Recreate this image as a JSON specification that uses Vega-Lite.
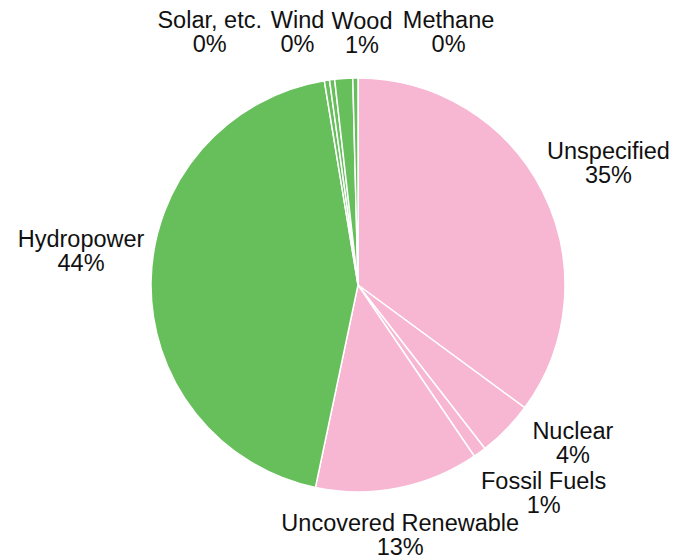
{
  "$schema": "https://vega.github.io/schema/vega-lite/v6.json",
  "width": 644,
  "height": 546,
  "autosize": "none",
  "padding": {"left": 36, "top": 12, "right": 0, "bottom": 0},
  "background": "white",
  "config": {"view": {"stroke": null}},
  "data": {
    "values": [
      {"i": 1, "name": "Unspecified", "group": "Other", "value": 0.351},
      {"i": 2, "name": "Nuclear", "group": "Other", "value": 0.044},
      {"i": 3, "name": "Fossil Fuels", "group": "Other", "value": 0.010},
      {"i": 4, "name": "Uncovered Renewable", "group": "Other", "value": 0.128},
      {"i": 5, "name": "Hydropower", "group": "Renewable", "value": 0.441},
      {"i": 6, "name": "Solar, etc.", "group": "Renewable", "value": 0.004},
      {"i": 7, "name": "Wind", "group": "Renewable", "value": 0.004},
      {"i": 8, "name": "Wood", "group": "Renewable", "value": 0.014},
      {"i": 9, "name": "Methane", "group": "Renewable", "value": 0.004}
    ]
  },
  "transform": [
    {"calculate": "datum.name + '\\n' + format(datum.value, '.0%')", "as": "label"}
  ],
  "encoding": {
    "theta": {"field": "value", "type": "quantitative", "stack": true},
    "order": {"field": "i", "type": "quantitative"}
  },
  "layer": [
    {
      "mark": {"type": "arc", "outerRadius": 207, "stroke": "white", "strokeWidth": 1.5},
      "encoding": {
        "color": {
          "field": "group",
          "type": "nominal",
          "scale": {"domain": ["Other", "Renewable"], "range": ["#F7B6D2", "#67BF5C"]},
          "legend": null
        }
      }
    },
    {
      "mark": {"type": "text", "radius": 275, "font": "Liberation Sans", "fontSize": 23.5, "lineHeight": 24, "lineBreak": "\n", "fill": "#111111", "baseline": "middle", "align": "center", "dx": 5, "dy": -9},
      "encoding": {"text": {"condition": {"test": "datum.name === 'Unspecified'", "field": "label"}, "value": ""}}
    },
    {
      "mark": {"type": "text", "radius": 275, "font": "Liberation Sans", "fontSize": 23.5, "lineHeight": 24, "lineBreak": "\n", "fill": "#111111", "baseline": "middle", "align": "center", "dx": 18, "dy": -45},
      "encoding": {"text": {"condition": {"test": "datum.name === 'Nuclear'", "field": "label"}, "value": ""}}
    },
    {
      "mark": {"type": "text", "radius": 275, "font": "Liberation Sans", "fontSize": 23.5, "lineHeight": 24, "lineBreak": "\n", "fill": "#111111", "baseline": "middle", "align": "center", "dx": 24, "dy": -25},
      "encoding": {"text": {"condition": {"test": "datum.name === 'Fossil Fuels'", "field": "label"}, "value": ""}}
    },
    {
      "mark": {"type": "text", "radius": 275, "font": "Liberation Sans", "fontSize": 23.5, "lineHeight": 24, "lineBreak": "\n", "fill": "#111111", "baseline": "middle", "align": "center", "dx": -11, "dy": -31},
      "encoding": {"text": {"condition": {"test": "datum.name === 'Uncovered Renewable'", "field": "label"}, "value": ""}}
    },
    {
      "mark": {"type": "text", "radius": 275, "font": "Liberation Sans", "fontSize": 23.5, "lineHeight": 24, "lineBreak": "\n", "fill": "#111111", "baseline": "middle", "align": "center", "dx": -2, "dy": -39},
      "encoding": {"text": {"condition": {"test": "datum.name === 'Hydropower'", "field": "label"}, "value": ""}}
    },
    {
      "mark": {"type": "text", "radius": 275, "font": "Liberation Sans", "fontSize": 23.5, "lineHeight": 24, "lineBreak": "\n", "fill": "#111111", "baseline": "middle", "align": "center", "dx": -107, "dy": 8},
      "encoding": {"text": {"condition": {"test": "datum.name === 'Solar, etc.'", "field": "label"}, "value": ""}}
    },
    {
      "mark": {"type": "text", "radius": 275, "font": "Liberation Sans", "fontSize": 23.5, "lineHeight": 24, "lineBreak": "\n", "fill": "#111111", "baseline": "middle", "align": "center", "dx": -26, "dy": 9},
      "encoding": {"text": {"condition": {"test": "datum.name === 'Wind'", "field": "label"}, "value": ""}}
    },
    {
      "mark": {"type": "text", "radius": 275, "font": "Liberation Sans", "fontSize": 23.5, "lineHeight": 24, "lineBreak": "\n", "fill": "#111111", "baseline": "middle", "align": "center", "dx": 23, "dy": 11},
      "encoding": {"text": {"condition": {"test": "datum.name === 'Wood'", "field": "label"}, "value": ""}}
    },
    {
      "mark": {"type": "text", "radius": 275, "font": "Liberation Sans", "fontSize": 23.5, "lineHeight": 24, "lineBreak": "\n", "fill": "#111111", "baseline": "middle", "align": "center", "dx": 94, "dy": 11},
      "encoding": {"text": {"condition": {"test": "datum.name === 'Methane'", "field": "label"}, "value": ""}}
    }
  ]
}
